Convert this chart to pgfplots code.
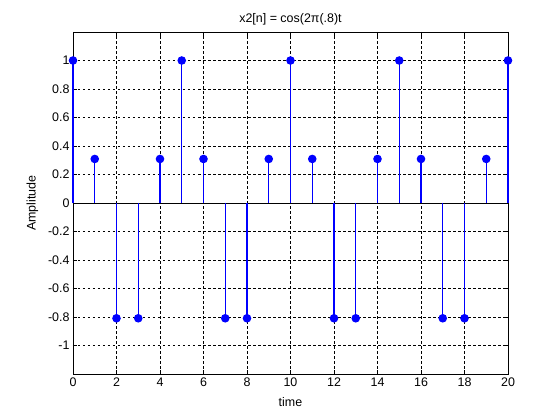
\documentclass[border=0pt]{standalone}
\usepackage{pgfplots}
\pgfplotsset{compat=1.18}
\usepackage{fontspec}
\setmainfont{Liberation Sans}
\definecolor{mblue}{RGB}{0,0,255}
\begin{document}
\begin{tikzpicture}[x=1bp,y=1bp]
\useasboundingbox (-73bp,-46bp) rectangle (487bp,374bp);
\begin{axis}[
  at={(0,0)}, anchor=south west,
  scale only axis, width=435bp, height=342bp,
  xmin=0, xmax=20, ymin=-1.2, ymax=1.2,
  xtick={0,2,...,20},
  ytick={-1,-0.8,-0.6,-0.4,-0.2,0,0.2,0.4,0.6,0.8,1},
  yticklabel style={/pgf/number format/fixed, /pgf/number format/precision=1},
  tick align=inside,
  major tick length=4bp,
  tick style={black, line width=0.6bp},
  axis line style={line width=0.8bp},
  grid=major,
  major grid style={black, dash pattern=on 2.5bp off 2.5bp, line width=0.6bp},
  ticklabel style={font=\fontsize{12.5}{14}\selectfont},
  /pgf/number format/assume math mode=true,
  title={x2[n] = cos(2π(.8)t},
  title style={font=\fontsize{12.5}{14}\selectfont, yshift=-3bp},
  xlabel={time}, ylabel={Amplitude},
  label style={font=\fontsize{12.5}{14}\selectfont},
  xlabel style={yshift=-4bp},
  ylabel style={yshift=3bp},
  clip=false,
]
\addplot[black, line width=0.8bp] coordinates {(0,0) (20,0)};
\addplot[ycomb, draw=mblue, line width=1.3bp, mark=*, mark size=3.6bp, mark options={fill=mblue, draw=mblue}] coordinates {
(0,1) (1,0.309) (2,-0.809) (3,-0.809) (4,0.309)
(5,1) (6,0.309) (7,-0.809) (8,-0.809) (9,0.309)
(10,1) (11,0.309) (12,-0.809) (13,-0.809) (14,0.309)
(15,1) (16,0.309) (17,-0.809) (18,-0.809) (19,0.309)
(20,1)
};
\end{axis}
\end{tikzpicture}
\end{document}
